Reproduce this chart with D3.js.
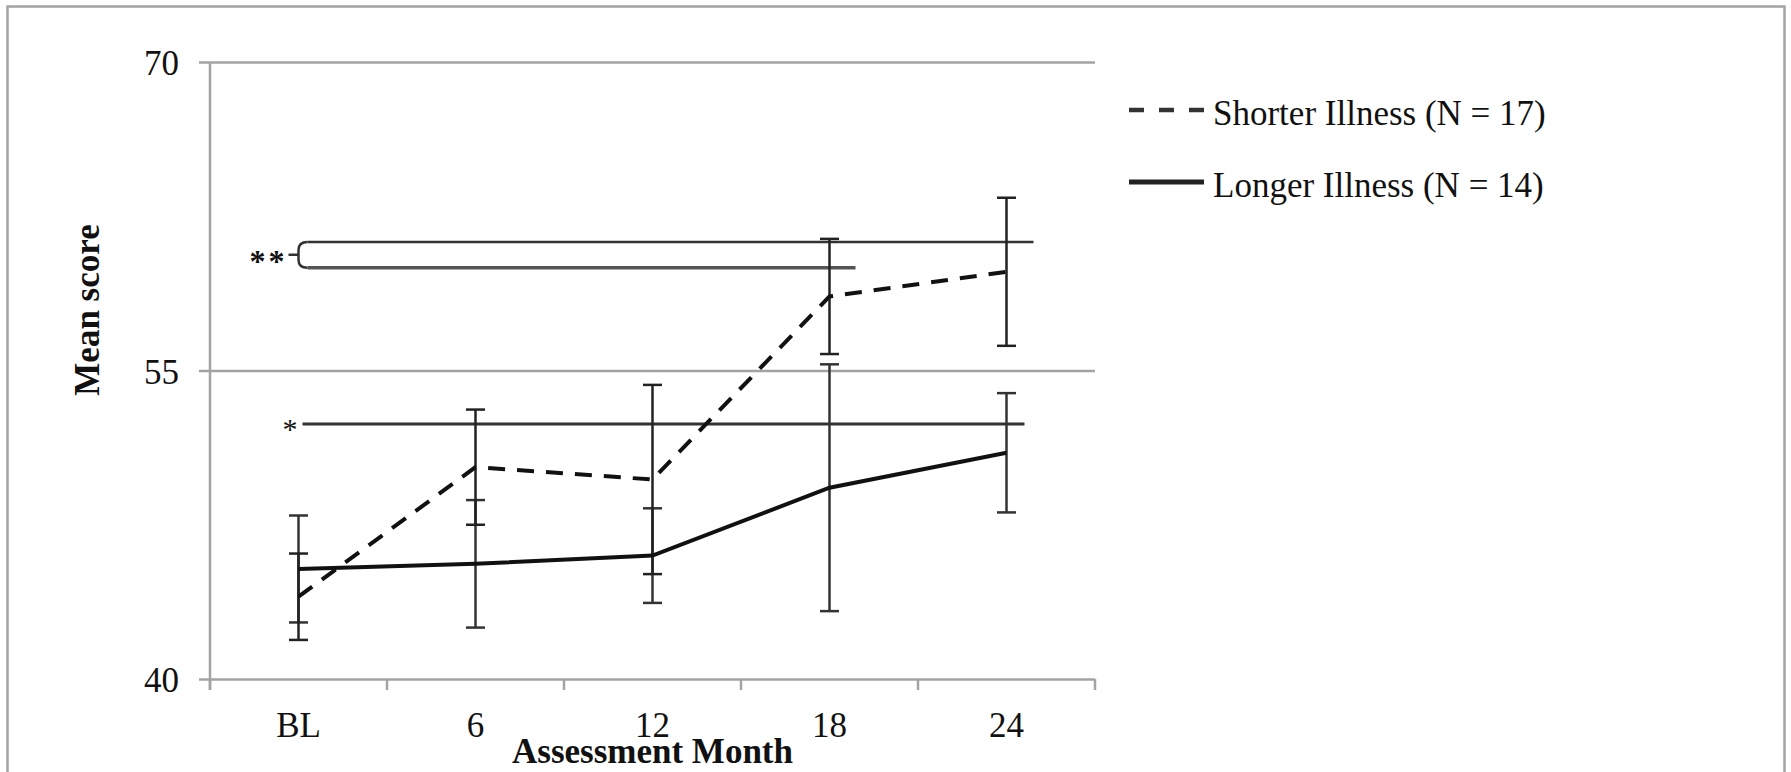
<!DOCTYPE html>
<html>
<head>
<meta charset="utf-8">
<script src="https://cdn.jsdelivr.net/npm/d3@7"></script>
<style>
  body { margin: 0; background: #fff; }
  text { font-family: "Liberation Serif", "Times New Roman", serif; fill: #111; }
</style>
</head>
<body>
<div id="chart"></div>
<script>
// data
var months = ["BL", "6", "12", "18", "24"];
var shorterMean = [44.0, 50.3, 49.7, 58.6, 59.8];
var shorterErr  = [2.1, 2.8, 4.6, 2.8, 3.6];
var longerMean  = [45.35, 45.6, 46.0, 49.3, 51.0];
var longerErr   = [2.6, 3.1, 2.3, 6.0, 2.9];
var yTicks = [40, 55, 70];
var seriesNames = ["Shorter Illness (N = 17)", "Longer Illness (N = 14)"];

// significance marks: ** bracket (two levels, ends at 24 and 18), * line
var bracketLevels = [61.25, 60.0];
var bracketEnds = ["24", "18"];
var starLevel = 52.4;
var starEnd = "24";

var W = 1791, H = 772;
var plotLeft = 210, plotRight = 1095, plotTop = 62, plotBottom = 679;

var svg = d3.select("#chart")
    .append("svg")
    .attr("width", W)
    .attr("height", H);

// outer frame
svg.append("rect")
    .attr("x", 7.5).attr("y", 6.5)
    .attr("width", 1777).attr("height", 820)
    .attr("fill", "none")
    .attr("stroke", "#a3a3a3")
    .attr("stroke-width", 2.5);

var x = d3.scaleBand()
    .domain(months)
    .range([plotLeft, plotRight]);
var cx = function(m) { return x(m) + x.bandwidth() / 2; };

var y = d3.scaleLinear()
    .domain([40, 70])
    .range([plotBottom, plotTop]);

// Y axis with gridlines
var yAxis = svg.append("g")
    .attr("transform", "translate(" + plotLeft + ",0)")
    .call(d3.axisLeft(y).tickValues(yTicks).tickSize(-(plotRight - plotLeft)).tickSizeOuter(0));
yAxis.select(".domain").remove();
yAxis.selectAll(".tick line")
    .attr("x1", -11)
    .attr("stroke", "#a3a3a3")
    .attr("stroke-width", 2.5);
yAxis.selectAll(".tick text")
    .attr("x", -31)
    .attr("dy", "0.36em")
    .attr("font-size", "35px")
    .attr("fill", "#111");

// vertical axis line
svg.append("line")
    .attr("x1", plotLeft).attr("x2", plotLeft)
    .attr("y1", plotTop).attr("y2", plotBottom + 11)
    .attr("stroke", "#a3a3a3")
    .attr("stroke-width", 2.5);

// X axis labels
var xAxis = svg.append("g")
    .attr("transform", "translate(0," + plotBottom + ")")
    .call(d3.axisBottom(x).tickSize(0));
xAxis.select(".domain").remove();
xAxis.selectAll(".tick text")
    .attr("y", 58)
    .attr("dy", 0)
    .attr("font-size", "35px")
    .attr("fill", "#111");

// tick marks at band edges
var edges = months.map(function(m) { return x(m); }).concat([plotRight]);
svg.append("g")
    .selectAll("line")
    .data(edges)
    .enter()
    .append("line")
    .attr("x1", function(d) { return d; })
    .attr("x2", function(d) { return d; })
    .attr("y1", plotBottom)
    .attr("y2", plotBottom + 11)
    .attr("stroke", "#a3a3a3")
    .attr("stroke-width", 2.5);

// significance marks
var bx = cx(months[0]);
svg.append("line")
    .attr("x1", bx + 9).attr("x2", cx(bracketEnds[0]) + 27)
    .attr("y1", y(bracketLevels[0])).attr("y2", y(bracketLevels[0]))
    .attr("stroke", "#333").attr("stroke-width", 2.5);
svg.append("line")
    .attr("x1", bx + 9).attr("x2", cx(bracketEnds[1]) + 26)
    .attr("y1", y(bracketLevels[1])).attr("y2", y(bracketLevels[1]))
    .attr("stroke", "#555").attr("stroke-width", 3.5);
var yt = y(bracketLevels[0]), yb = y(bracketLevels[1]), ym = (yt + yb) / 2;
svg.append("path")
    .attr("d", "M" + (bx + 9) + "," + yt + " Q" + bx + "," + yt + " " + bx + "," + (yt + 8) +
               " L" + bx + "," + (yb - 8) + " Q" + bx + "," + yb + " " + (bx + 9) + "," + yb +
               " M" + (bx - 10) + "," + ym + " L" + bx + "," + ym)
    .attr("fill", "none")
    .attr("stroke", "#333")
    .attr("stroke-width", 2.5);
svg.append("text")
    .attr("x", bx - 49)
    .attr("y", ym + 17)
    .attr("font-size", "32px")
    .attr("font-weight", "bold")
    .attr("letter-spacing", "3px")
    .text("**");

svg.append("line")
    .attr("x1", bx + 4).attr("x2", cx(starEnd) + 18)
    .attr("y1", y(starLevel)).attr("y2", y(starLevel))
    .attr("stroke", "#333").attr("stroke-width", 3);
svg.append("text")
    .attr("x", bx - 16)
    .attr("y", y(starLevel) + 15)
    .attr("font-size", "30px")
    .text("*");

// error bars
function errorBars(means, errs, color) {
    var g = svg.append("g")
        .attr("stroke", color)
        .attr("stroke-width", 2.5);
    months.forEach(function(m, i) {
        var c = cx(m), lo = y(means[i] - errs[i]), hi = y(means[i] + errs[i]);
        g.append("line").attr("x1", c).attr("x2", c).attr("y1", lo).attr("y2", hi);
        g.append("line").attr("x1", c - 9.5).attr("x2", c + 9.5).attr("y1", lo).attr("y2", lo);
        g.append("line").attr("x1", c - 9.5).attr("x2", c + 9.5).attr("y1", hi).attr("y2", hi);
    });
}
errorBars(longerMean, longerErr, "#333");
errorBars(shorterMean, shorterErr, "#222");

// series lines
var line = d3.line()
    .x(function(d, i) { return cx(months[i]); })
    .y(function(d) { return y(d); });

svg.append("path")
    .datum(longerMean)
    .attr("d", line)
    .attr("fill", "none")
    .attr("stroke", "#111")
    .attr("stroke-width", 4);

svg.append("path")
    .datum(shorterMean)
    .attr("d", line)
    .attr("fill", "none")
    .attr("stroke", "#111")
    .attr("stroke-width", 4)
    .attr("stroke-dasharray", "17,12");

// axis titles
svg.append("text")
    .attr("transform", "translate(99,310) rotate(-90)")
    .attr("text-anchor", "middle")
    .attr("font-size", "35px")
    .attr("font-weight", "bold")
    .text("Mean score");

svg.append("text")
    .attr("x", (plotLeft + plotRight) / 2)
    .attr("y", 763)
    .attr("text-anchor", "middle")
    .attr("font-size", "35px")
    .attr("font-weight", "bold")
    .text("Assessment Month");

// legend
var legend = svg.append("g");
legend.append("line")
    .attr("x1", 1129).attr("x2", 1204)
    .attr("y1", 110).attr("y2", 110)
    .attr("stroke", "#333").attr("stroke-width", 4.5)
    .attr("stroke-dasharray", "15,15");
legend.append("text")
    .attr("x", 1213).attr("y", 125)
    .attr("font-size", "35px")
    .text(seriesNames[0]);
legend.append("line")
    .attr("x1", 1129).attr("x2", 1204)
    .attr("y1", 182).attr("y2", 182)
    .attr("stroke", "#222").attr("stroke-width", 5);
legend.append("text")
    .attr("x", 1213).attr("y", 197)
    .attr("font-size", "35px")
    .text(seriesNames[1]);
</script>
</body>
</html>
